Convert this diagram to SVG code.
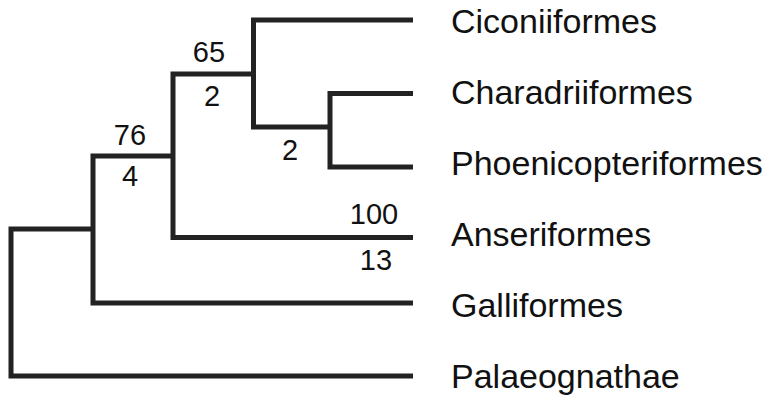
<svg xmlns="http://www.w3.org/2000/svg" width="768" height="398" viewBox="0 0 768 398">
  <style>
    .edge { fill: none; stroke: #222; stroke-width: 5; stroke-linejoin: miter; stroke-linecap: butt; }
    .taxon { font-family: "Liberation Sans", Arial, sans-serif; font-size: 34px; fill: #111; }
    .support { font-family: "Liberation Sans", Arial, sans-serif; font-size: 29px; fill: #111; text-anchor: middle; }
  </style>
  <rect width="768" height="398" fill="#fff"/>
  <g id="connectors">
    <path class="edge" d="M93 229 H11 V376 H413"/>
    <path class="edge" d="M173 156 H93 V303 H413"/>
    <path class="edge" d="M253 74 H173 V237.5 H413"/>
    <path class="edge" d="M413 20 H253.5 V127 H330"/>
    <path class="edge" d="M413 93.5 H330 V167 H413"/>
  </g>
  <g id="node-76">
    <text class="support" x="130" y="145">76</text>
    <text class="support" x="130" y="186">4</text>
  </g>
  <g id="node-65">
    <text class="support" x="209" y="62">65</text>
    <text class="support" x="212" y="106">2</text>
  </g>
  <g id="node-charadrii-phoenico">
    <text class="support" x="290" y="160">2</text>
  </g>
  <g id="node-anseriformes-support">
    <text class="support" x="374" y="224">100</text>
    <text class="support" x="376" y="270">13</text>
  </g>
  <g id="leaf-ciconiiformes"><text class="taxon" x="451" y="33">Ciconiiformes</text></g>
  <g id="leaf-charadriiformes"><text class="taxon" x="451" y="104">Charadriiformes</text></g>
  <g id="leaf-phoenicopteriformes"><text class="taxon" x="451" y="175">Phoenicopteriformes</text></g>
  <g id="leaf-anseriformes"><text class="taxon" x="451" y="246">Anseriformes</text></g>
  <g id="leaf-galliformes"><text class="taxon" x="451" y="317">Galliformes</text></g>
  <g id="leaf-palaeognathae"><text class="taxon" x="451" y="388">Palaeognathae</text></g>
</svg>
